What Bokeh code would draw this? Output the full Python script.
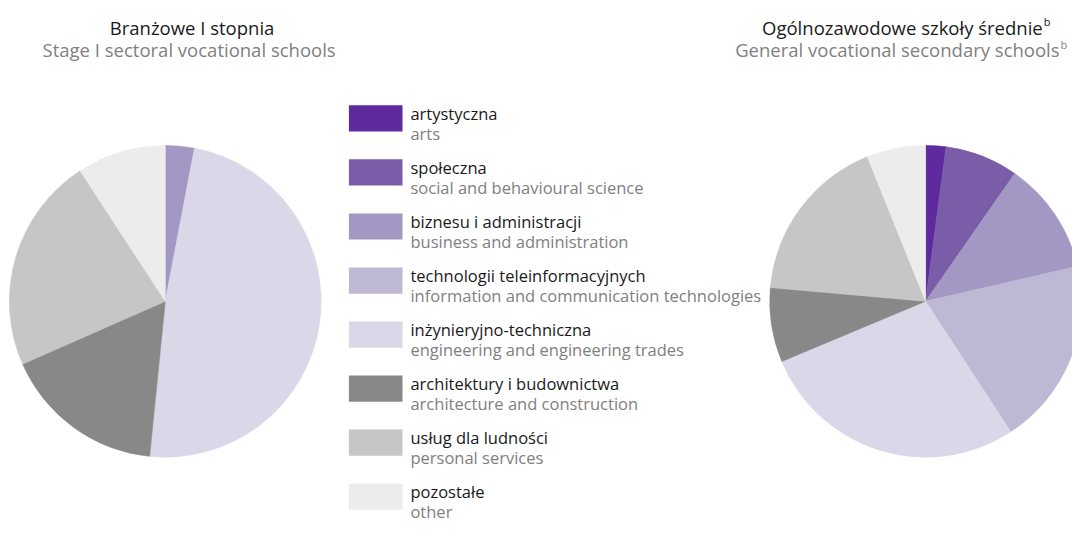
import math
from bokeh.plotting import figure
from bokeh.models import Range1d, ColumnDataSource
from bokeh.core.properties import value
from bokeh.embed import file_html
from bokeh.resources import INLINE

# ---------------- data ----------------
categories_pl = [
    "artystyczna",
    "społeczna",
    "biznesu i administracji",
    "technologii teleinformacyjnych",
    "inżynieryjno-techniczna",
    "architektury i budownictwa",
    "usług dla ludności",
    "pozostałe",
]
categories_en = [
    "arts",
    "social and behavioural science",
    "business and administration",
    "information and communication technologies",
    "engineering and engineering trades",
    "architecture and construction",
    "personal services",
    "other",
]
colors = ["#5E2A9E", "#7A5DA8", "#A398C3", "#BEB8D4",
          "#DAD8E8", "#888888", "#C6C6C6", "#ECECEC"]

# shares (%)
stage1_values = [0.0, 0.0, 3.0, 0.0, 48.6, 16.8, 22.4, 9.2]
general_values = [2.1, 7.6, 11.7, 19.4, 27.9, 7.7, 17.5, 6.1]

title_left_pl = "Branżowe I stopnia"
title_left_en = "Stage I sectoral vocational schools"
title_right_pl = "Ogólnozawodowe szkoły średnie"
title_right_en = "General vocational secondary schools"
footnote_mark = "b"

# ---------------- layout ----------------
W, H = 1072, 524
FONT = value("Open Sans")
BLACK = "#1A1A1A"
GREY = "#808080"


def Y(ref):
    # reference pixel row -> data y (upwards)
    return 540 - ref


p = figure(width=W, height=H, x_range=Range1d(0, 1080), y_range=Range1d(0, 540),
           output_backend="svg", toolbar_location=None, min_border=0,
           x_axis_type=None, y_axis_type=None)
p.grid.visible = False
p.outline_line_color = None
p.background_fill_color = "white"
p.border_fill_color = "white"


def pie(values, cx, cy, r):
    total = sum(values)
    starts, ends, cols = [], [], []
    cum = 0.0
    for v, c in zip(values, colors):
        if v <= 0:
            continue
        a0 = math.pi / 2 - 2 * math.pi * cum / total
        cum += v
        a1 = math.pi / 2 - 2 * math.pi * cum / total
        starts.append(a0)
        ends.append(a1)
        cols.append(c)
    src = ColumnDataSource(dict(start=starts, end=ends, color=cols))
    p.wedge(x=cx, y=cy, radius=r, start_angle="start", end_angle="end",
            direction="clock", fill_color="color", line_color="color",
            line_width=0.6, source=src)


pie(stage1_values, 166, Y(310), 157)
pie(general_values, 932, Y(310), 157)

# legend
n = len(categories_pl)
sq_top = [108 + 55.7 * i for i in range(n)]
p.quad(left=351, right=405, top=[Y(t) for t in sq_top],
       bottom=[Y(t + 27) for t in sq_top], fill_color=colors, line_color=None)
p.text(x=[413] * n, y=[Y(t + 8) for t in sq_top], text=categories_pl,
       text_font=FONT, text_font_size="16.5px", text_color=BLACK,
       text_baseline="alphabetic", text_align="left")
p.text(x=[413] * n, y=[Y(t + 29) for t in sq_top], text=categories_en,
       text_font=FONT, text_font_size="16.5px", text_color=GREY,
       text_baseline="alphabetic", text_align="left")

# titles
p.text(x=[193], y=[Y(28)], text=[title_left_pl], text_font=FONT,
       text_font_size="18.5px", text_color=BLACK, text_baseline="alphabetic",
       text_align="center")
p.text(x=[190], y=[Y(51)], text=[title_left_en], text_font=FONT,
       text_font_size="18.5px", text_color=GREY, text_baseline="alphabetic",
       text_align="center")
p.text(x=[1050], y=[Y(28)], text=[title_right_pl], text_font=FONT,
       text_font_size="18.5px", text_color=BLACK, text_baseline="alphabetic",
       text_align="right")
p.text(x=[1067], y=[Y(51)], text=[title_right_en], text_font=FONT,
       text_font_size="18.5px", text_color=GREY, text_baseline="alphabetic",
       text_align="right")
p.text(x=[1051], y=[Y(22)], text=[footnote_mark], text_font=FONT,
       text_font_size="11px", text_color=BLACK, text_baseline="alphabetic",
       text_align="left")
p.text(x=[1068], y=[Y(45)], text=[footnote_mark], text_font=FONT,
       text_font_size="11px", text_color=GREY, text_baseline="alphabetic",
       text_align="left")

open("out.html", "w").write(file_html(p, INLINE))
